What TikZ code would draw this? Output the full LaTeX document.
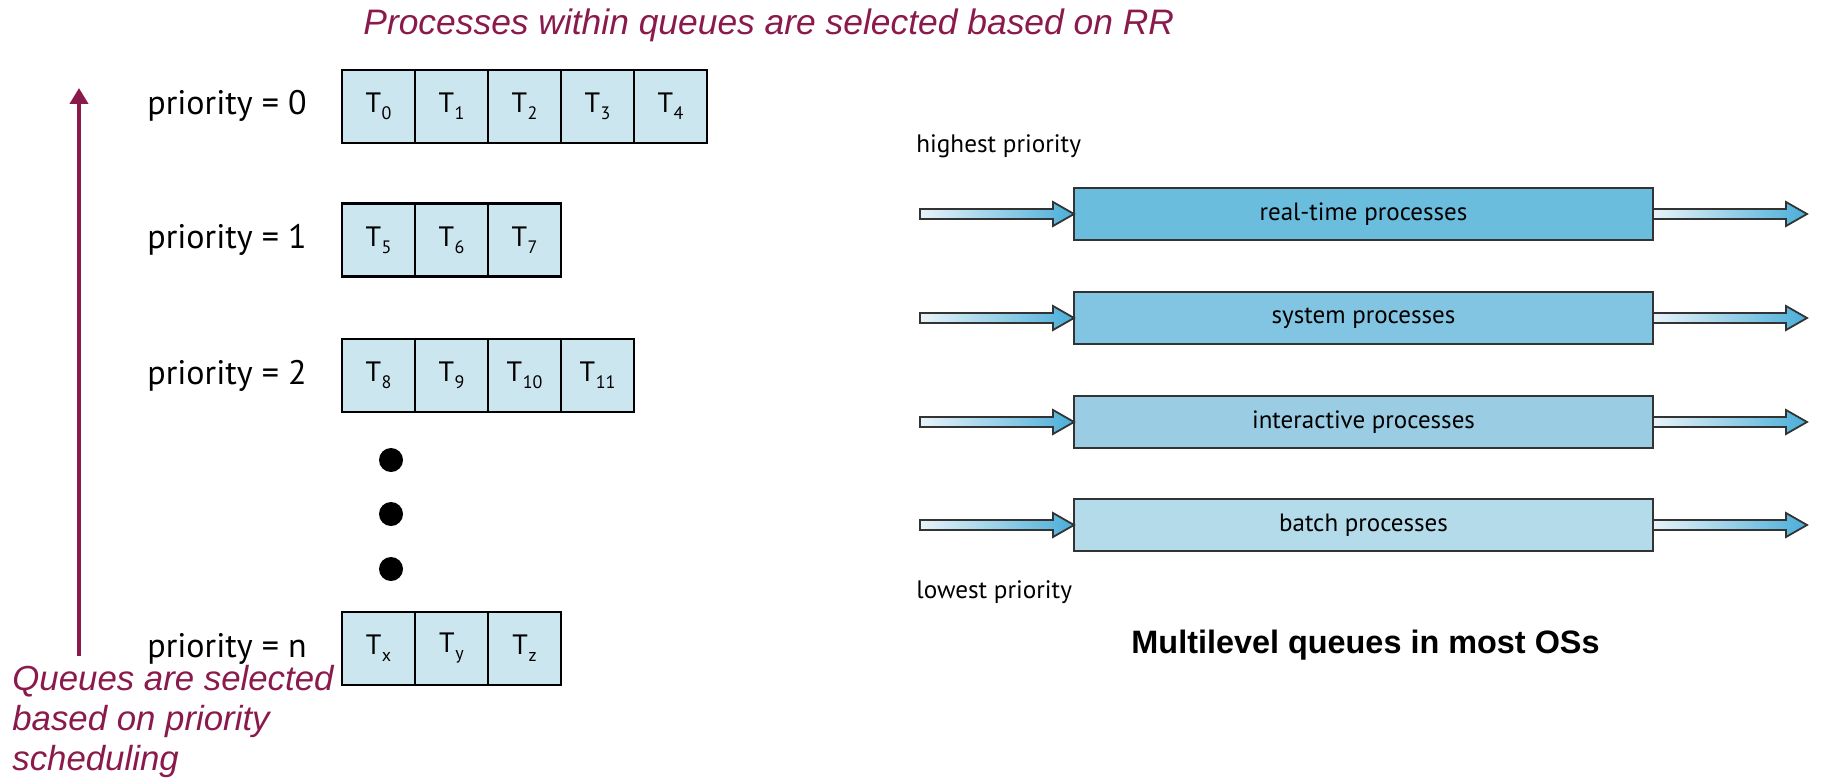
\documentclass[tikz,border=0pt]{standalone}
\usepackage{fontspec}
\setmainfont{Liberation Sans}
\newfontfamily\myriad{PT Sans}
\usepackage{xcolor}
\usetikzlibrary{arrows.meta, positioning, calc}
\definecolor{rrred}{HTML}{8B1A4C}
\definecolor{cellblue}{HTML}{CCE6F0}
\definecolor{rtblue}{HTML}{6BBDDE}
\definecolor{sysblue}{HTML}{82C5E3}
\definecolor{interblue}{HTML}{9ACCE4}
\definecolor{batchblue}{HTML}{B4DBEA}
\definecolor{arrowblue}{HTML}{4AAED9}
\definecolor{arrowpale}{HTML}{E8F3F8}
\definecolor{edgegray}{HTML}{333333}
\newcommand{\tname}[1]{T\kern0.3pt\raisebox{-3.5pt}{\fontsize{9}{9}\selectfont #1}}
\newcommand{\fatarrow}[2]{%
  \shadedraw[fatarrow] let \p1=(#1), \p2=(#2) in
    (\x1,\y1-2.5pt) -- (\x2-10.5pt,\y1-2.5pt) -- (\x2-10.5pt,\y1-6pt) -- (\x2,\y1)
    -- (\x2-10.5pt,\y1+6pt) -- (\x2-10.5pt,\y1+2.5pt) -- (\x1,\y1+2.5pt) -- cycle;}

\begin{document}
\begin{tikzpicture}[
        x=0.5pt, y=-0.5pt,
        cell/.style={
            draw=black,
            line width=1.3pt,
            fill=cellblue,
            minimum size=36.5pt,
            inner sep=0pt,
            outer sep=0pt,
            font=\myriad\fontsize{14}{14}\selectfont
        },
        plabel/.style={anchor=west, inner sep=0pt, font=\myriad\fontsize{17}{17}\selectfont},
        level/.style={
            draw=edgegray,
            line width=1pt,
            minimum width=289.5pt,
            minimum height=26pt,
            inner sep=0pt,
            outer sep=0pt,
            font=\myriad\fontsize{12.5}{12.5}\selectfont
        },
        side/.style={anchor=base west, inner sep=0pt, font=\myriad\fontsize{12.6}{12.6}\selectfont},
        fatarrow/.style={draw=edgegray, line width=0.9pt, left color=arrowpale, right color=arrowblue},
        note/.style={inner sep=0pt, text=rrred, font=\fontsize{17.4}{20}\selectfont\itshape},
        dot/.style={circle, fill=black, minimum size=12pt, inner sep=0pt}
    ]
        \useasboundingbox (0,0) rectangle (1829,781);

        % left: round robin queues
        \node[note, anchor=base west, font=\fontsize{17.7}{20}\selectfont\itshape] (rr-note) at (363,35) {Processes within queues are selected based on RR};

        \node[plabel] (p0) at (147,106) {priority = 0};
        \node[cell] (c00) at (378.5,106.5) {\tname{0}};
        \node[cell, right=0pt of c00] (c01) {\tname{1}};
        \node[cell, right=0pt of c01] (c02) {\tname{2}};
        \node[cell, right=0pt of c02] (c03) {\tname{3}};
        \node[cell, right=0pt of c03] (c04) {\tname{4}};

        \node[plabel] (p1) at (147,240) {priority = 1};
        \node[cell] (c10) at (378.5,240) {\tname{5}};
        \node[cell, right=0pt of c10] (c11) {\tname{6}};
        \node[cell, right=0pt of c11] (c12) {\tname{7}};

        \node[plabel] (p2) at (147,375.5) {priority = 2};
        \node[cell] (c20) at (378.5,375.5) {\tname{8}};
        \node[cell, right=0pt of c20] (c21) {\tname{9}};
        \node[cell, right=0pt of c21] (c22) {\tname{10}};
        \node[cell, right=0pt of c22] (c23) {\tname{11}};

        \node[dot] (dot1) at (391,460) {};
        \node[dot] (dot2) at (391,514) {};
        \node[dot] (dot3) at (391,569) {};

        \node[plabel] (pn) at (147,648.5) {priority = n};
        \node[cell] (cn0) at (378.5,648.5) {\tname{x}};
        \node[cell, right=0pt of cn0] (cn1) {\tname{y}};
        \node[cell, right=0pt of cn1] (cn2) {\tname{z}};

        \coordinate (arrow-low) at (79,656);
        \coordinate (arrow-high) at (79,88);
        \draw[-{Triangle[width=9pt,length=8pt]}, line width=2pt, rrred] (arrow-low) -- (arrow-high);
        \node[note, anchor=north west, align=left] (prio-note) at (12,665) {Queues are selected\\based on priority\\scheduling};

        % right: multilevel queues
        \node[side] (high) at (916,152) {highest priority};

        \node[level, fill=rtblue] (rt) at (1363.5,214) {real-time processes};
        \node[level, fill=sysblue] (sys) at (1363.5,318) {system processes};
        \node[level, fill=interblue] (inter) at (1363.5,422) {interactive processes};
        \node[level, fill=batchblue] (batch) at (1363.5,525) {batch processes};

        \coordinate (rt-in) at (920,214);      \coordinate (rt-out) at (1807,214);
        \coordinate (sys-in) at (920,318);     \coordinate (sys-out) at (1807,318);
        \coordinate (inter-in) at (920,422);   \coordinate (inter-out) at (1807,422);
        \coordinate (batch-in) at (920,525);   \coordinate (batch-out) at (1807,525);

        \foreach \q in {rt,sys,inter,batch} {
            \fatarrow{\q-in}{\q.west}
            \fatarrow{\q.east}{\q-out}
        }

        \node[side] (low) at (916,598) {lowest priority};
        \node[anchor=base, inner sep=0pt, font=\bfseries\fontsize{16.2}{16.2}\selectfont] (title) at (1365.5,653) {Multilevel queues in most OSs};
    \end{tikzpicture}
\end{document}
